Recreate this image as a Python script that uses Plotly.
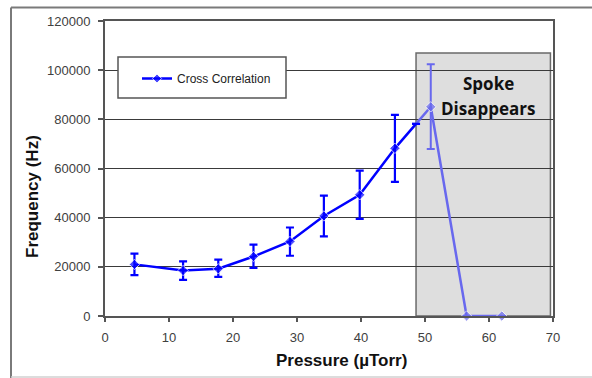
import numpy as np
import plotly.graph_objects as go

# ---- data ----
pressure = [4.6, 12.2, 17.7, 23.2, 28.9, 34.2, 39.8, 45.3, 50.9, 56.5, 62.0]
frequency = [21000, 18500, 19200, 24200, 30300, 40700, 49300, 68200, 85100, 0, 0]
err_up = [4400, 3700, 3700, 4800, 5700, 8300, 9800, 13600, 17300, np.nan, np.nan]
err_down = [4400, 3800, 3300, 4600, 5800, 8300, 9800, 13600, 17200, np.nan, np.nan]
series_name = "Cross Correlation"
x_ticks = [0, 10, 20, 30, 40, 50, 60, 70]
y_ticks = [0, 20000, 40000, 60000, 80000, 100000, 120000]

# ---- styling / layout constants ----
BLUE = "#0000ff"
LIGHT_BLUE = "#6868ee"
BOX_X0, BOX_X1, BOX_Y1 = 48.6, 69.6, 107000

px = np.array(pressure, dtype=float)
fy = np.array(frequency, dtype=float)
eu = np.array(err_up, dtype=float)
ed = np.array(err_down, dtype=float)

inside = px > BOX_X0
k = int(np.argmax(inside))  # first index inside shaded box
# point where line crosses box edge (computed from the data)
y_edge = float(np.interp(BOX_X0, px[k - 1:k + 1], fy[k - 1:k + 1]))

dark_x = list(px[:k]) + [BOX_X0]
dark_y = list(fy[:k]) + [y_edge]
dark_eu = list(eu[:k]) + [np.nan]
dark_ed = list(ed[:k]) + [np.nan]
dark_ms = [8] * k + [0]

light_x = [BOX_X0] + list(px[k:])
light_y = [y_edge] + list(fy[k:])
light_eu = [np.nan] + list(eu[k:])
light_ed = [np.nan] + list(ed[k:])
light_ms = [0] + [8] * (len(px) - k)

fig = go.Figure()

fig.add_trace(go.Scatter(
    x=light_x, y=light_y, mode="lines+markers", showlegend=False,
    line=dict(color=LIGHT_BLUE, width=2.5),
    marker=dict(symbol="diamond", size=light_ms, color=LIGHT_BLUE),
    error_y=dict(type="data", array=light_eu, arrayminus=light_ed,
                 color=LIGHT_BLUE, thickness=2, width=4),
    cliponaxis=False,
))
fig.add_trace(go.Scatter(
    x=dark_x, y=dark_y, mode="lines+markers", name=series_name,
    line=dict(color=BLUE, width=2.5),
    marker=dict(symbol="diamond", size=dark_ms, color=BLUE),
    error_y=dict(type="data", array=dark_eu, arrayminus=dark_ed,
                 color=BLUE, thickness=2.2, width=4),
))

shapes = [
    # shaded "spoke disappears" region
    dict(type="rect", xref="x", yref="y", x0=BOX_X0, x1=BOX_X1, y0=0, y1=BOX_Y1,
         fillcolor="#dedede", line=dict(color="#6a6a6a", width=1.5), layer="below"),
    # legend box
    dict(type="rect", xref="paper", yref="paper",
         x0=(118 - 105) / 448, x1=(286 - 105) / 448,
         y0=(316 - 98) / 295, y1=(316 - 57) / 295,
         fillcolor="white", line=dict(color="#555555", width=1.5), layer="above"),
    # outer frame lines
    dict(type="line", xref="paper", yref="paper",
         x0=(11 - 105) / 448, x1=(600 - 105) / 448,
         y0=(316 - 7.5) / 295, y1=(316 - 7.5) / 295,
         line=dict(color="#7a7a7a", width=2)),
    dict(type="line", xref="paper", yref="paper",
         x0=(11 - 105) / 448, x1=(11 - 105) / 448,
         y0=(316 - 7.5) / 295, y1=(316 - 380) / 295,
         line=dict(color="#7a7a7a", width=2)),
    dict(type="line", xref="paper", yref="paper",
         x0=(11 - 105) / 448, x1=(600 - 105) / 448,
         y0=(316 - 377) / 295, y1=(316 - 377) / 295,
         line=dict(color="#d0d0d0", width=1.5)),
]

annotations = [
    dict(text="<b>Spoke</b>", x=(488 - 105) / 448, y=(316 - 83) / 295,
         xref="paper", yref="paper", showarrow=False,
         font=dict(family="Open Sans", size=17, color="#111111"),
         xanchor="center", yanchor="middle"),
    dict(text="<b>Disappears</b>", x=(488 - 105) / 448, y=(316 - 108) / 295,
         xref="paper", yref="paper", showarrow=False,
         font=dict(family="Open Sans", size=17, color="#111111"),
         xanchor="center", yanchor="middle"),
    dict(text="<b>Pressure (µTorr)</b>", x=(341 - 105) / 448, y=(316 - 360) / 295,
         xref="paper", yref="paper", showarrow=False,
         font=dict(family="Arial", size=17, color="#111111"),
         xanchor="center", yanchor="middle"),
    dict(text="<b>Frequency (Hz)</b>", x=(33 - 105) / 448, y=(316 - 197) / 295,
         xref="paper", yref="paper", showarrow=False, textangle=-90,
         font=dict(family="Arial", size=17, color="#111111"),
         xanchor="center", yanchor="middle"),
]

fig.update_layout(
    width=592, height=378,
    margin=dict(l=105, r=39, t=21, b=62),
    paper_bgcolor="white", plot_bgcolor="white",
    font=dict(family="Arial", size=13, color="#404040"),
    showlegend=True,
    legend=dict(x=(137 - 105) / 448, y=(316 - 64) / 295, xanchor="left", yanchor="top",
                bgcolor="rgba(0,0,0,0)", borderwidth=0,
                font=dict(family="Arial", size=12, color="#222222"),
                itemwidth=30),
    shapes=shapes,
    annotations=annotations,
)

fig.update_xaxes(
    range=[0, 70], tickvals=x_ticks, ticktext=[str(v) for v in x_ticks],
    showgrid=False, zeroline=False,
    showline=True, linecolor="#555555", linewidth=2, mirror=True,
    ticks="outside", ticklen=4, tickcolor="#555555", tickwidth=1.5,
    ticklabelstandoff=4,
    tickfont=dict(size=13, color="#404040"),
)
fig.update_yaxes(
    range=[0, 120000], tickvals=y_ticks, ticktext=[str(v) for v in y_ticks],
    showgrid=True, gridcolor="#3a3a3a", gridwidth=1.2, zeroline=False,
    showline=True, linecolor="#555555", linewidth=2, mirror=True,
    ticks="outside", ticklen=5, tickcolor="#555555", tickwidth=1.5,
    ticklabelstandoff=5,
    tickfont=dict(size=13, color="#404040"),
)

fig.write_html("out.html")
